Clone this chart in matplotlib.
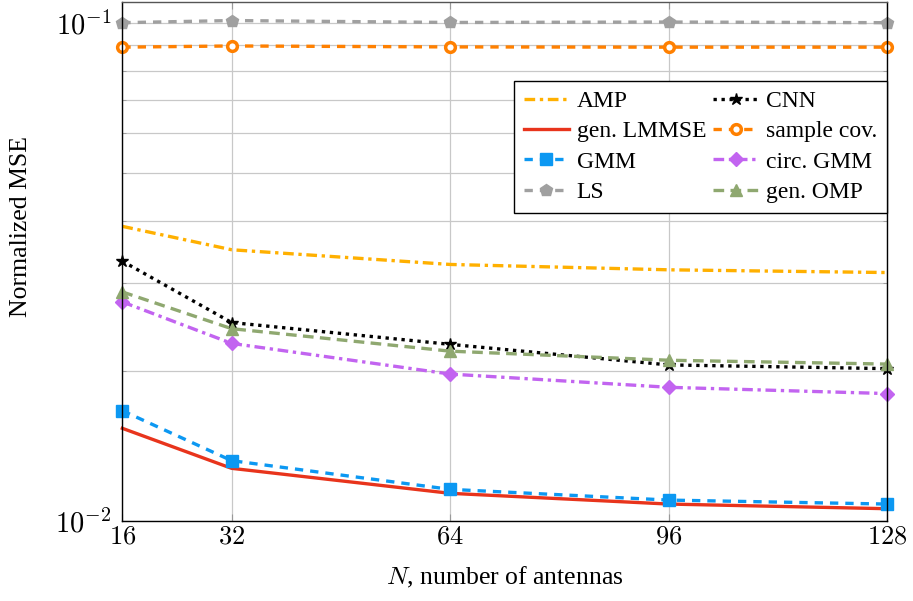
import matplotlib
matplotlib.use("Agg")
import matplotlib.pyplot as plt
from matplotlib.ticker import FixedLocator, NullFormatter, LogLocator

plt.rcParams["font.family"] = ["Liberation Serif", "DejaVu Serif"]
plt.rcParams["mathtext.fontset"] = "cm"

# Number of antennas
antennas = [16, 32, 64, 96, 128]
x_tick_labels = ["$16$", "$32$", "$64$", "$96$", "$128$"]

# Normalized MSE per estimator
amp = [0.0390, 0.0350, 0.0327, 0.0319, 0.0315]
gen_lmmse = [0.01533, 0.01274, 0.01135, 0.0108, 0.01057]
gmm = [0.01663, 0.01320, 0.01156, 0.0110, 0.0108]
ls = [0.1000, 0.1010, 0.1001, 0.1003, 0.1000]
cnn = [0.0332, 0.0250, 0.0226, 0.02055, 0.0202]
sample_cov = [0.0893, 0.0898, 0.0894, 0.0893, 0.0893]
circ_gmm = [0.0275, 0.0227, 0.0197, 0.01853, 0.0180]
gen_omp = [0.0288, 0.0243, 0.0219, 0.0210, 0.02063]

fig = plt.figure(figsize=(9.13, 6.01), dpi=100)
ax = fig.add_axes([0.134, 0.1336, 0.8378, 0.8636])

lw = 2.4
common = dict(linewidth=lw, clip_on=False, dash_capstyle="butt")

h_amp, = ax.plot(antennas, amp, color="#FFB000", linestyle=(0, (3.2, 1.4, 1.0, 1.4)),
                 label="AMP", **common)
h_lmmse, = ax.plot(antennas, gen_lmmse, color="#E8341C", linestyle="-",
                   label="gen. LMMSE", **common)
h_gmm, = ax.plot(antennas, gmm, color="#0C98F2", linestyle=(0, (2.5, 2.1)),
                 marker="s", markersize=8, markerfacecolor="#0C98F2",
                 markeredgecolor="#0C98F2", label="GMM", **common)
h_ls, = ax.plot(antennas, ls, color="#A0A0A0", linestyle=(0, (2.5, 2.1)),
                marker="p", markersize=9, markerfacecolor="#A0A0A0",
                markeredgecolor="#A0A0A0", label="LS", **common)
h_cnn, = ax.plot(antennas, cnn, color="black", linestyle=(0, (1.0, 1.4)),
                 marker="*", markersize=9, markerfacecolor="black",
                 markeredgecolor="black", label="CNN", **common)
h_scov, = ax.plot(antennas, sample_cov, color="#FF8000", linestyle=(0, (2.5, 2.1)),
                  marker="o", markersize=7, markerfacecolor="white",
                  markeredgecolor="#FF8000", markeredgewidth=2.5,
                  label="sample cov.", **common)
h_circ, = ax.plot(antennas, circ_gmm, color="#C264F0", linestyle=(0, (3.2, 1.4, 1.0, 1.4)),
                  marker="D", markersize=7, markerfacecolor="#C264F0",
                  markeredgecolor="#C264F0", label="circ. GMM", **common)
h_omp, = ax.plot(antennas, gen_omp, color="#8FA870", linestyle=(0, (3.2, 1.9)),
                 marker="^", markersize=9, markerfacecolor="#8FA870",
                 markeredgecolor="#8FA870", label="gen. OMP", **common)

ax.set_yscale("log")
ax.set_xlim(16, 128)
ax.set_ylim(0.01, 0.1102)

ax.xaxis.set_major_locator(FixedLocator(antennas))
ax.set_xticklabels(x_tick_labels)
ax.yaxis.set_major_locator(FixedLocator([0.01, 0.1]))
ax.set_yticklabels([r"$10^{-2}$", r"$10^{-1}$"])
ax.yaxis.set_minor_locator(LogLocator(base=10, subs=range(2, 10)))
ax.yaxis.set_minor_formatter(NullFormatter())

ax.tick_params(axis="both", which="both", direction="in", color="#999999")
ax.tick_params(axis="x", which="major", length=5, top=True, labelsize=19, pad=4)
ax.tick_params(axis="y", which="major", length=5, labelsize=20.5, pad=8)
ax.tick_params(axis="y", which="minor", length=3)
ax.tick_params(axis="y", which="both", right=True)

ax.grid(True, which="major", axis="both", color="#C8C8C8", linewidth=0.9)
ax.grid(True, which="minor", axis="y", color="#C8C8C8", linewidth=0.9)
ax.set_axisbelow(True)

for side in ["left", "bottom", "right"]:
    ax.spines[side].set_color("black")
    ax.spines[side].set_linewidth(1.0)
ax.spines["top"].set_color("#555555")
ax.spines["top"].set_linewidth(1.0)

ax.set_xlabel(r"$N$, number of antennas", fontsize=18.5, labelpad=12)
ax.set_ylabel("Normalized MSE", fontsize=18.5)
ax.yaxis.set_label_coords(-0.118, 0.566)

handles = [h_amp, h_lmmse, h_gmm, h_ls, h_cnn, h_scov, h_circ, h_omp]
leg = ax.legend(handles=handles, ncol=2, loc="upper right",
                bbox_to_anchor=(1.0, 0.848), fontsize=17, frameon=True,
                fancybox=False, edgecolor="black", framealpha=1.0,
                handlelength=1.9, handletextpad=0.34, columnspacing=0.3,
                labelspacing=0.37, borderpad=0.42, borderaxespad=0.0)
leg.get_frame().set_linewidth(1.0)

fig.savefig("out.png", dpi=100)
